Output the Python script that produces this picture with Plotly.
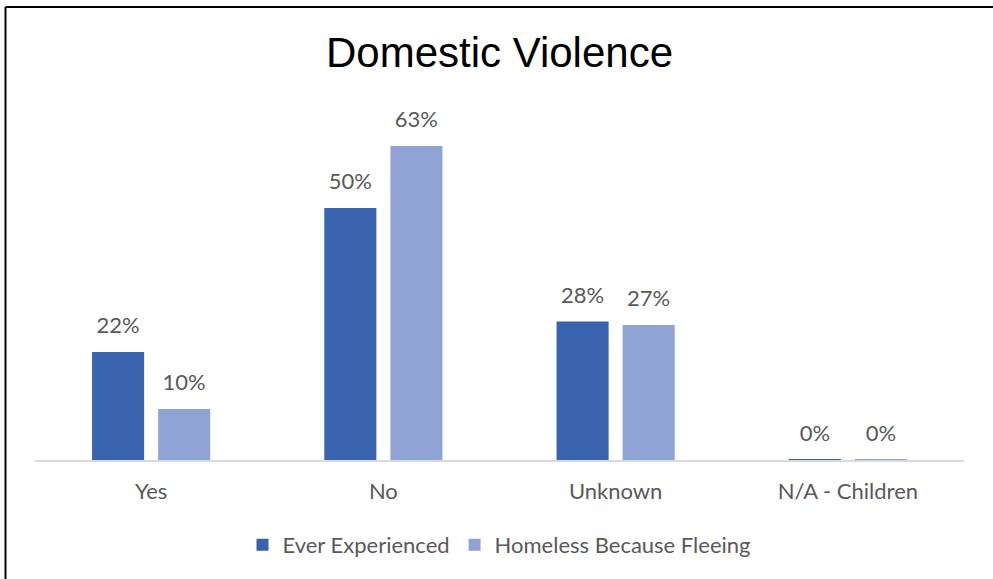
import plotly.graph_objects as go

categories = ["Yes", "No", "Unknown", "N/A - Children"]
ever_experienced = [0.216, 0.504, 0.277, 0.001]
homeless_fleeing = [0.102, 0.628, 0.270, 0.001]
series_names = ["Ever Experienced", "Homeless Because Fleeing"]
colors = ["#3A63AD", "#8FA4D5"]

W, H = 993, 579
ML, MR, MT, MB = 35, 29, 110, 119
PW = W - ML - MR
PH = H - MT - MB

def px_x(px):
    return (px - ML) / PW

def px_y(py):
    return (H - MB - py) / PH

label_font = dict(family="Lato, sans-serif", size=22, color="#595959")

fig = go.Figure()
for name, vals, col in zip(series_names, [ever_experienced, homeless_fleeing], colors):
    fig.add_trace(go.Bar(
        x=categories, y=vals, name=name, marker=dict(color=col, line=dict(width=0)),
        offsetgroup=name, hoverinfo="skip",
    ))
for name, vals in zip(series_names, [ever_experienced, homeless_fleeing]):
    fig.add_trace(go.Scatter(
        x=categories, y=vals, mode="markers+text", offsetgroup=name,
        text=[f"{round(v*100):.0f}%" for v in vals], textposition="top center",
        textfont=label_font, marker=dict(size=20, opacity=0, color="white"),
        showlegend=False, hoverinfo="skip", cliponaxis=False,
    ))

fig.update_layout(
    width=W, height=H,
    margin=dict(l=ML, r=MR, t=MT, b=MB),
    paper_bgcolor="white", plot_bgcolor="white",
    barmode="group", bargap=0.431, bargroupgap=0.212,
    scattermode="group", scattergap=0.431,
    hovermode=False,
    title=dict(text="Domestic Violence", x=0.5, xref="paper", xanchor="center",
               y=1 - 52.5 / H, yanchor="middle",
               font=dict(family="Liberation Sans, Arial, sans-serif", size=42, color="#000000")),
    xaxis=dict(showgrid=False, showline=True, linecolor="#D9D9D9", linewidth=1.5,
               ticks="", tickfont=label_font, ticklabelstandoff=11, zeroline=False),
    yaxis=dict(visible=False, range=[0, 0.70], showgrid=False, zeroline=False),
    legend=dict(orientation="h", x=0.5, xanchor="center", y=px_y(545), yanchor="middle",
                font=label_font, itemwidth=30, traceorder="normal"),
    showlegend=True,
    shapes=[
        dict(type="line", xref="paper", yref="paper", x0=px_x(5.5), x1=px_x(993),
             y0=px_y(7), y1=px_y(7), line=dict(color="black", width=2)),
        dict(type="line", xref="paper", yref="paper", x0=px_x(5.5), x1=px_x(5.5),
             y0=px_y(7), y1=px_y(580), line=dict(color="black", width=2)),
    ],
)

fig.write_html("out.html", config={"displayModeBar": False},
               post_script="document.body.style.margin='0px';document.body.style.overflow='hidden';")
